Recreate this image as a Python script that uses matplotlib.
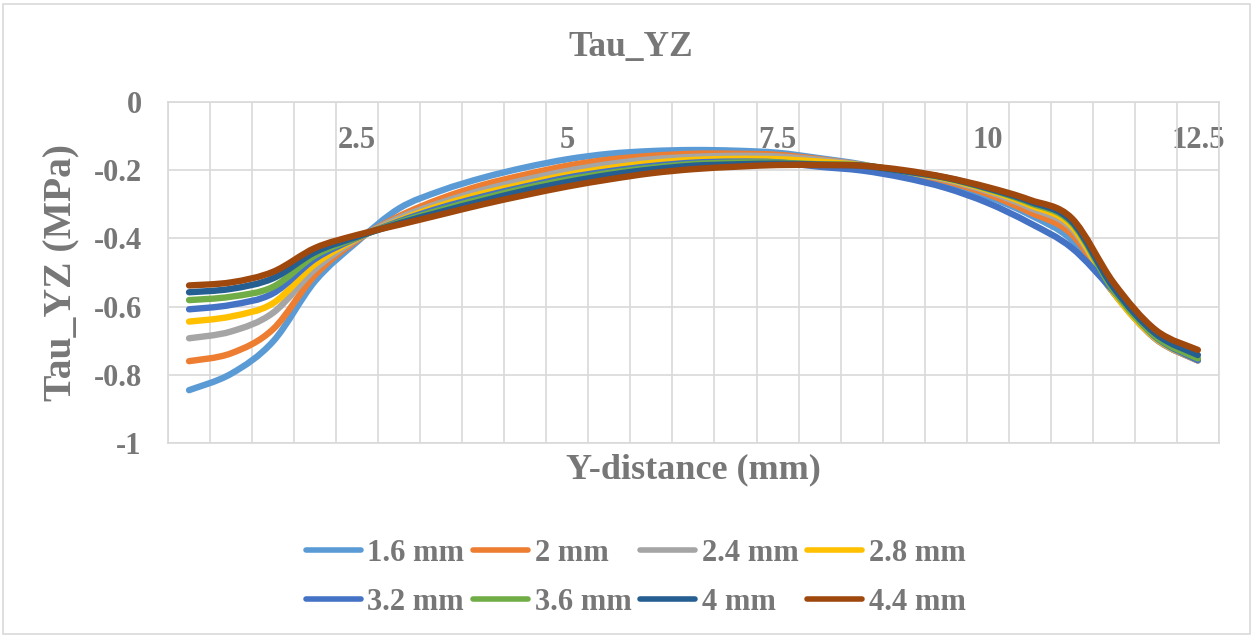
import numpy as np
import matplotlib
matplotlib.use("Agg")
import matplotlib.pyplot as plt
from matplotlib.path import Path
from matplotlib.patches import PathPatch, Rectangle
from matplotlib.lines import Line2D

# Y-distance positions (mm)
y_distance = [0.5, 1.0, 1.5, 2.0, 2.5, 3.0, 3.5, 4.0, 4.5, 5.0, 5.5, 6.0, 6.5,
              7.0, 7.5, 8.0, 8.5, 9.0, 9.5, 10.0, 10.5, 11.0, 11.5, 12.0, 12.5]

series_names = ["1.6 mm", "2 mm", "2.4 mm", "2.8 mm",
                "3.2 mm", "3.6 mm", "4 mm", "4.4 mm"]

tau_1_6 = [-0.845, -0.797, -0.702, -0.525, -0.41, -0.312, -0.26, -0.222, -0.192,
           -0.168, -0.152, -0.144, -0.141, -0.143, -0.149, -0.165, -0.183, -0.21,
           -0.238, -0.277, -0.331, -0.405, -0.56, -0.695, -0.758]
tau_2_0 = [-0.760, -0.737, -0.666, -0.507, -0.405, -0.335, -0.283, -0.243, -0.213,
           -0.187, -0.169, -0.158, -0.152, -0.152, -0.155, -0.168, -0.185, -0.208,
           -0.232, -0.270, -0.323, -0.388, -0.56, -0.695, -0.758]
tau_2_4 = [-0.693, -0.673, -0.618, -0.49, -0.402, -0.34, -0.295, -0.258, -0.228,
           -0.202, -0.182, -0.168, -0.161, -0.158, -0.160, -0.170, -0.185, -0.205,
           -0.228, -0.262, -0.310, -0.372, -0.56, -0.695, -0.757]
tau_2_8 = [-0.644, -0.629, -0.59, -0.475, -0.40, -0.347, -0.303, -0.268, -0.24,
           -0.214, -0.194, -0.179, -0.170, -0.167, -0.168, -0.175, -0.186, -0.204,
           -0.225, -0.258, -0.302, -0.364, -0.56, -0.693, -0.756]
tau_3_2 = [-0.608, -0.595, -0.561, -0.46, -0.398, -0.35, -0.31, -0.277, -0.248,
           -0.222, -0.203, -0.188, -0.178, -0.175, -0.177, -0.190, -0.201, -0.222,
           -0.252, -0.296, -0.355, -0.428, -0.555, -0.69, -0.757]
tau_3_6 = [-0.581, -0.571, -0.542, -0.45, -0.397, -0.353, -0.316, -0.283, -0.253,
           -0.228, -0.208, -0.193, -0.182, -0.178, -0.178, -0.183, -0.186, -0.203,
           -0.223, -0.255, -0.296, -0.355, -0.553, -0.688, -0.752]
tau_4_0 = [-0.558, -0.548, -0.517, -0.44, -0.395, -0.356, -0.322, -0.29, -0.26,
           -0.235, -0.214, -0.198, -0.187, -0.183, -0.181, -0.184, -0.187, -0.203,
           -0.222, -0.253, -0.292, -0.35, -0.545, -0.68, -0.742]
tau_4_4 = [-0.538, -0.529, -0.498, -0.428, -0.39, -0.36, -0.33, -0.30, -0.273,
           -0.248, -0.227, -0.209, -0.197, -0.190, -0.185, -0.185, -0.187, -0.200,
           -0.221, -0.250, -0.287, -0.341, -0.531, -0.669, -0.727]

series_values = [tau_1_6, tau_2_0, tau_2_4, tau_2_8,
                 tau_3_2, tau_3_6, tau_4_0, tau_4_4]

colors = ["#5B9BD5", "#ED7D31", "#A5A5A5", "#FFC000",
          "#4472C4", "#70AD47", "#255E91", "#9E480E"]

x_tick_values = [2.5, 5, 7.5, 10, 12.5]
x_tick_labels = ["2.5", "5", "7.5", "10", "12.5"]
y_tick_values = [0, -0.2, -0.4, -0.6, -0.8, -1]
y_tick_labels = ["0", "-0.2", "-0.4", "-0.6", "-0.8", "-1"]

TEXT = "#777777"
GRID = "#D9D9D9"
FONT = "Liberation Serif"


def smooth_path(xs, ys):
    """Cubic Bezier path through the points (Catmull-Rom style tangents)."""
    pts = np.column_stack([xs, ys]).astype(float)
    n = len(pts)
    verts = [pts[0]]
    codes = [Path.MOVETO]
    for i in range(n - 1):
        p0 = pts[i - 1] if i > 0 else pts[i]
        p1 = pts[i]
        p2 = pts[i + 1]
        p3 = pts[i + 2] if i + 2 < n else pts[i + 1]
        c1 = p1 + (p2 - p0) / 6.0
        c2 = p2 - (p3 - p1) / 6.0
        verts += [c1, c2, p2]
        codes += [Path.CURVE4] * 3
    return Path(verts, codes)


fig = plt.figure(figsize=(12.54, 6.37), dpi=100)
ax = fig.add_axes([0.134, 0.3045, 0.838, 0.5355])

ax.set_xlim(0.25, 12.75)
ax.set_ylim(-1, 0)

lw = 4.6
for vals, col in zip(series_values, colors):
    patch = PathPatch(smooth_path(y_distance, vals), fill=False, edgecolor=col,
                      linewidth=lw, capstyle="round", joinstyle="round", zorder=3)
    ax.add_patch(patch)

# grid: vertical lines on category boundaries, horizontal at major y ticks
ax.set_xticks(np.arange(0.25, 12.76, 0.5), minor=True)
ax.set_xticks(x_tick_values)
ax.set_xticklabels(x_tick_labels)
ax.set_yticks(y_tick_values)
ax.set_yticklabels(y_tick_labels)
ax.grid(False)
ax.grid(True, which="minor", axis="x", color=GRID, linewidth=1.2)
ax.grid(True, which="major", axis="y", color=GRID, linewidth=1.2)
ax.set_axisbelow(True)
for sp in ax.spines.values():
    sp.set_color(GRID)
    sp.set_linewidth(1.2)

ax.xaxis.set_ticks_position("top")
ax.tick_params(axis="x", which="both", length=0, top=False, bottom=False,
               labeltop=True, labelbottom=False, pad=-38)
ax.tick_params(axis="y", which="both", length=0, pad=19)
for lab in ax.get_xticklabels() + ax.get_yticklabels():
    lab.set_fontfamily(FONT)
    lab.set_fontweight("bold")
    lab.set_fontsize(22)
    lab.set_color(TEXT)

fig.text(0.503, 0.925, "Tau_YZ", ha="center", va="center", fontfamily=FONT,
         fontweight="bold", fontsize=25.5, color=TEXT)
ax.text(0.5, -0.079, "Y-distance (mm)", transform=ax.transAxes, ha="center",
        va="center", fontfamily=FONT, fontweight="bold", fontsize=26, color=TEXT)
ax.text(-0.101, 0.5, "Tau_YZ (MPa)", transform=ax.transAxes, ha="center",
        va="center", rotation=90, fontfamily=FONT, fontweight="bold",
        fontsize=28.5, color=TEXT)

# legend: 4 columns, two rows, filled row by row
handles = [Line2D([0], [0], color=c, lw=4.0, solid_capstyle="round") for c in colors]
order = [0, 4, 1, 5, 2, 6, 3, 7]
leg = fig.legend([handles[i] for i in order], [series_names[i] for i in order],
                 ncol=4, loc="center", bbox_to_anchor=(0.507, 0.093),
                 frameon=False, handlelength=1.8, handletextpad=0.2,
                 columnspacing=0.3, labelspacing=0.65,
                 prop={"family": FONT, "weight": "bold", "size": 22})
for t in leg.get_texts():
    t.set_color(TEXT)

# chart area border
fig.add_artist(Rectangle((0.002, 0.004), 0.995, 0.99, transform=fig.transFigure,
                         fill=False, edgecolor=GRID, linewidth=1.2))

fig.savefig("out.png", dpi=100)
